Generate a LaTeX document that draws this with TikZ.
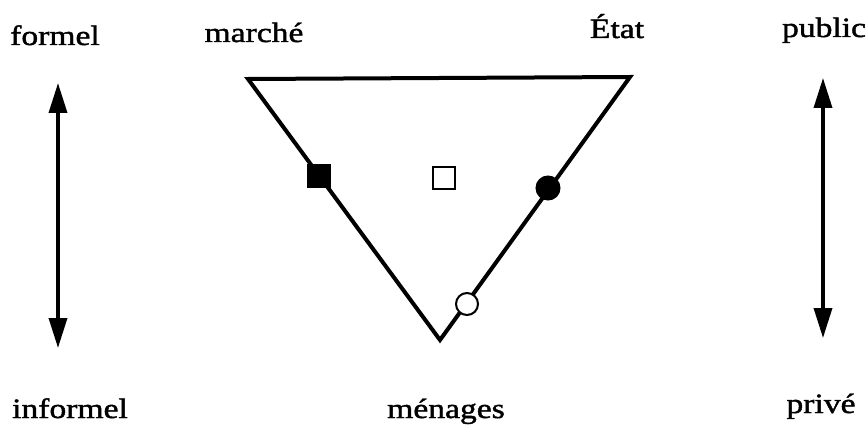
\documentclass[tikz,border=0pt]{standalone}
\usepackage{fontspec}
\setmainfont{Liberation Serif}[FakeStretch=1.2,FakeBold=1.5]
\usetikzlibrary{arrows.meta}
\begin{document}
\begin{tikzpicture}[x=1pt,y=-1pt,
  lbl/.style={anchor=base,inner sep=0pt,font=\fontsize{28}{30}\selectfont},
  tri/.style={line width=4pt,line join=miter},
  dbl/.style={line width=3.5pt,{Triangle[length=30pt,width=18pt]}-{Triangle[length=30pt,width=18pt]}},
  fsq/.style={draw,fill=black,minimum size=23pt,inner sep=0pt,line width=1pt},
  osq/.style={draw,fill=white,minimum size=22pt,inner sep=0pt,line width=2pt},
  fci/.style={circle,draw,fill=black,minimum size=24pt,inner sep=0pt,line width=1pt},
  oci/.style={circle,draw,fill=white,minimum size=22pt,inner sep=0pt,line width=2pt}]
\useasboundingbox (0,0) rectangle (867,433);
\coordinate (A) at (248,79);
\coordinate (B) at (630,77);
\coordinate (C) at (440,340);
\draw[tri] (A) -- (B) -- (C) -- cycle;
\node[fsq] (m1) at (319,176) {};
\node[osq] (m2) at (444,178) {};
\node[fci] (m3) at (548,188) {};
\node[oci] (m4) at (467,304) {};
\coordinate (L1) at (58,83);
\coordinate (L2) at (58,348);
\coordinate (R1) at (823,78);
\coordinate (R2) at (823,338);
\draw[dbl] (L1) -- (L2);
\draw[dbl] (R1) -- (R2);
\node[lbl] (t1) at (55,45) {formel};
\node[lbl] (t2) at (254,42) {marché};
\node[lbl] (t3) at (617,38) {État};
\node[lbl] (t4) at (824,37) {public};
\node[lbl] (t5) at (70,418) {informel};
\node[lbl] (t6) at (446,418) {ménages};
\node[lbl] (t7) at (821,413) {privé};
\end{tikzpicture}
\end{document}
